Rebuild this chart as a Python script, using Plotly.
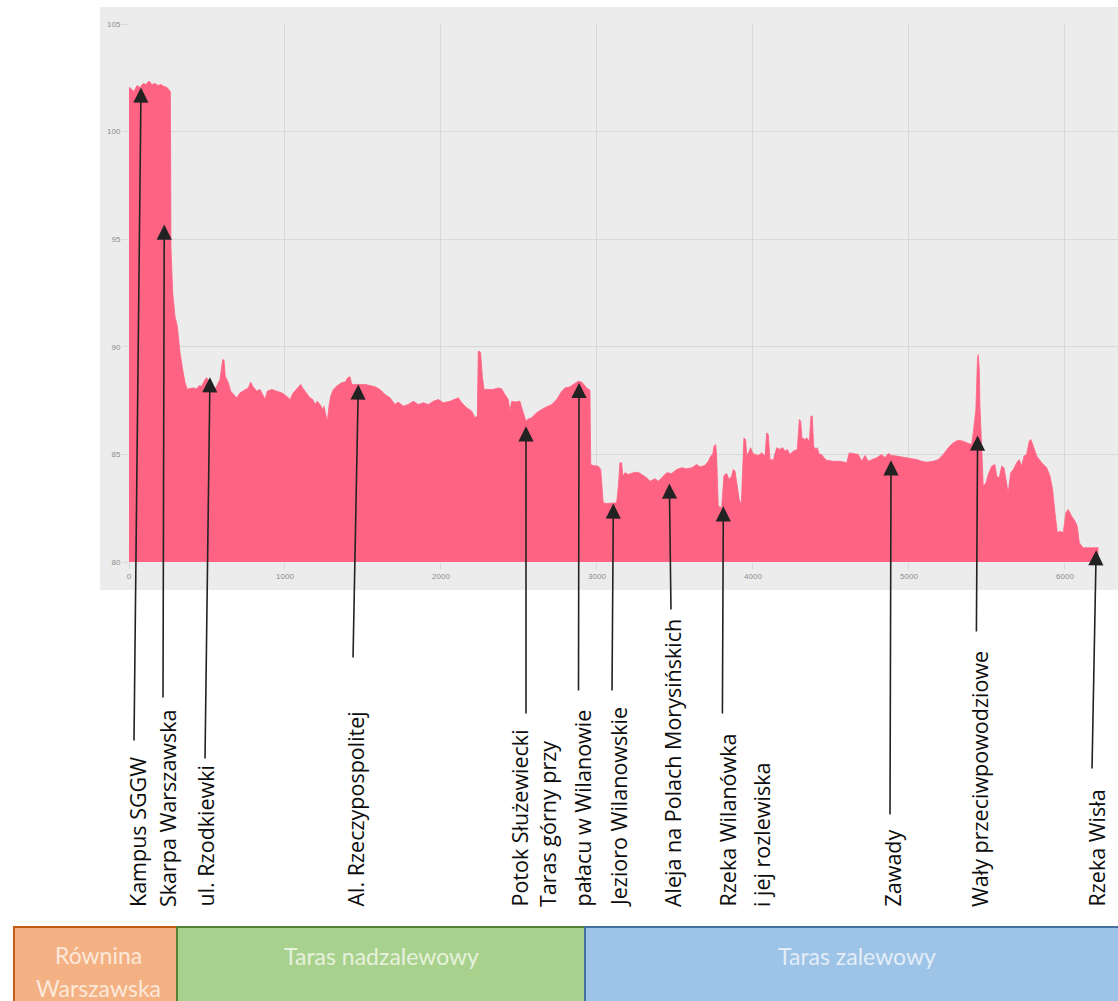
import plotly.graph_objects as go

# ---------------- data ----------------
# Segment 1: Równina Warszawska + Skarpa Warszawska
seg1_dist = [0, 19, 32, 51, 71, 90, 109, 128, 147, 167, 186, 205, 224, 244, 256, 265,
             267, 269, 280, 295, 310, 327, 344, 359, 374]
seg1_elev = [102.07, 101.96, 101.86, 102.14, 102.05, 102.23, 102.19, 102.35, 102.19, 102.23,
             102.14, 102.19, 102.10, 102.05, 101.91, 101.86, 99.17, 94.66, 92.52, 91.41,
             90.94, 89.73, 88.95, 88.34, 88.02]

# Segment 2: Taras nadzalewowy
seg2_dist = [380, 412, 434, 451, 466, 487, 498, 519, 540, 562,
             583, 601, 609, 617, 637, 652, 669, 690, 712, 733,
             765, 780, 793, 819, 840, 857, 872, 887, 915, 947,
             979, 1011, 1032, 1053, 1071, 1085, 1101, 1113, 1139, 1160,
             1178, 1192, 1207, 1224, 1242, 1250, 1261, 1271, 1282, 1293,
             1310, 1331, 1363, 1385, 1402, 1417, 1428, 1449, 1481, 1513,
             1545, 1577, 1609, 1641, 1673, 1705, 1726, 1758, 1790, 1822,
             1855, 1887, 1919, 1951, 1983, 2015, 2058, 2090, 2111, 2133,
             2165, 2197, 2218, 2233, 2239, 2244, 2254, 2265, 2276, 2303,
             2335, 2367, 2389, 2410, 2431, 2442, 2453, 2474, 2506, 2521,
             2532, 2545, 2560, 2581, 2613, 2645, 2678, 2710, 2742, 2774,
             2795, 2827, 2848, 2880, 2902, 2934, 2955]
seg2_elev = [88.05, 88.09, 88.05, 88.20, 88.17, 88.48, 88.56, 88.34, 87.94, 88.17,
             88.48, 89.41, 89.38, 88.63, 88.33, 87.94, 87.78, 87.63, 87.86, 87.94,
             88.09, 88.36, 88.17, 87.94, 88.02, 87.78, 87.55, 87.94, 88.02, 87.94,
             87.86, 87.70, 87.55, 87.86, 88.02, 88.09, 88.25, 88.09, 87.86, 87.63,
             87.55, 87.32, 87.47, 87.32, 87.09, 87.24, 86.85, 86.54, 87.24, 87.70,
             88.02, 88.17, 88.33, 88.36, 88.56, 88.61, 88.25, 88.25, 88.25, 88.25,
             88.20, 88.14, 88.02, 87.78, 87.63, 87.32, 87.43, 87.24, 87.32, 87.47,
             87.32, 87.40, 87.32, 87.47, 87.55, 87.40, 87.47, 87.55, 87.63, 87.40,
             87.17, 87.01, 86.70, 86.78, 89.78, 89.80, 89.72, 88.63, 88.02, 88.02,
             88.02, 88.09, 88.05, 87.78, 87.55, 87.01, 87.47, 87.43, 87.47, 87.09,
             86.78, 86.54, 86.65, 86.70, 86.93, 87.09, 87.21, 87.32, 87.55, 87.94,
             88.09, 88.14, 88.25, 88.40, 88.36, 88.09, 87.98]

# Segment 3: Taras zalewowy
seg3_dist = [2960, 2976, 3008, 3024, 3034, 3040, 3062, 3104, 3126, 3137,
             3147, 3158, 3165, 3179, 3201, 3233, 3265, 3286, 3319, 3340,
             3372, 3393, 3425, 3447, 3479, 3511, 3543, 3575, 3607, 3639,
             3660, 3692, 3714, 3729, 3742, 3750, 3761, 3767, 3774, 3778,
             3799, 3814, 3831, 3848, 3863, 3874, 3885, 3899, 3912, 3925,
             3934, 3942, 3953, 3960, 3976, 3985, 3998, 4013, 4034, 4056,
             4077, 4088, 4098, 4109, 4130, 4152, 4173, 4190, 4205, 4220,
             4237, 4258, 4284, 4297, 4306, 4314, 4334, 4344, 4361, 4372,
             4380, 4389, 4404, 4412, 4425, 4440, 4455, 4472, 4515, 4558,
             4601, 4617, 4643, 4675, 4697, 4718, 4739, 4761, 4793, 4825,
             4846, 4867, 4889, 4921, 4953, 4985, 5017, 5049, 5081, 5113,
             5156, 5188, 5220, 5252, 5284, 5316, 5348, 5380, 5402, 5412,
             5429, 5439, 5444, 5451, 5455, 5466, 5476, 5494, 5508, 5530,
             5551, 5562, 5579, 5594, 5609, 5622, 5636, 5652, 5669, 5690,
             5707, 5722, 5737, 5754, 5771, 5782, 5797, 5819, 5851, 5883,
             5904, 5921, 5936, 5951, 5968, 5989, 6006, 6021, 6043, 6064,
             6079, 6092, 6117, 6171, 6214]
seg3_elev = [84.53, 84.48, 84.45, 84.30, 83.52, 82.75, 82.72, 82.72, 82.75, 83.52,
             84.61, 84.61, 83.99, 84.15, 84.07, 84.15, 84.17, 84.07, 83.91, 83.75,
             83.87, 83.75, 83.99, 84.15, 84.11, 84.30, 84.38, 84.33, 84.38, 84.53,
             84.42, 84.48, 84.68, 84.92, 85.00, 85.38, 85.46, 84.92, 83.37, 82.59,
             82.52, 84.02, 84.11, 83.83, 83.99, 84.30, 84.22, 83.52, 82.90, 82.67,
             84.30, 85.77, 85.69, 84.92, 85.15, 85.31, 85.07, 85.00, 84.95, 85.07,
             84.92, 86.00, 85.92, 84.76, 84.73, 85.31, 85.23, 85.31, 85.15, 85.23,
             85.00, 85.15, 85.23, 86.62, 86.54, 85.77, 85.69, 85.77, 85.61, 86.78,
             86.78, 85.38, 85.23, 85.31, 85.00, 85.00, 84.84, 84.73, 84.68, 84.68,
             84.61, 85.07, 85.04, 85.00, 84.68, 84.95, 84.68, 84.76, 84.84, 85.00,
             84.84, 85.04, 84.95, 84.92, 84.89, 84.84, 84.80, 84.76, 84.68, 84.64,
             84.68, 84.76, 85.00, 85.31, 85.54, 85.66, 85.61, 85.51, 85.46, 86.00,
             87.09, 89.41, 89.64, 88.95, 87.24, 85.38, 83.52, 83.68, 84.07, 84.45,
             84.53, 83.99, 83.91, 84.45, 84.38, 83.83, 83.22, 84.15, 84.30, 84.61,
             84.76, 84.45, 84.92, 85.00, 85.61, 85.69, 85.38, 84.92, 84.61, 84.38,
             83.99, 83.37, 82.29, 81.36, 81.43, 81.36, 82.29, 82.44, 82.13, 81.90,
             81.66, 80.89, 80.66, 80.66, 80.66]

# Points of interest (arrow targets on the profile)
label_lines = [["Kampus SGGW"], ["Skarpa Warszawska"], ["ul. Rzodkiewki"],
               ["Al. Rzeczypospolitej"], ["Potok Służewiecki"],
               ["Taras górny przy", "pałacu w Wilanowie"], ["Jezioro Wilanowskie"],
               ["Aleja na Polach Morysińskich"], ["Rzeka Wilanówka", "i jej rozlewiska"],
               ["Zawady"], ["Wały przeciwpowodziowe"], ["Rzeka Wisła"]]
label_dist = [77, 226, 519, 1470, 2545, 2885, 3105, 3464, 3810, 4885, 5440, 6200]
label_elev = [102.05, 95.68, 88.59, 88.25, 86.31, 88.33, 82.72, 83.65, 82.59, 84.73, 85.88, 80.55]

# Geomorphological zones (bottom band)
zone_names = [["Równina", "Warszawska"], ["Taras nadzalewowy"], ["Taras zalewowy"]]

x_ticks = [0, 1000, 2000, 3000, 4000, 5000, 6000]
y_ticks = [80, 85, 90, 95, 100, 105]

# ---------------- layout geometry (pixels) ----------------
W, H = 1118, 1001
ML, MR, MT, MB = 129, 0, 24, 439
PW, PH = W - ML - MR, H - MT - MB
X_MAX = 6340
Y_MIN, Y_MAX = 80, 105


def px_x(d):
    return ML + d * PW / X_MAX


def px_y(e):
    return MT + PH - (e - Y_MIN) * PH / (Y_MAX - Y_MIN)


def paper_x(px):
    return (px - ML) / PW


def paper_y(py):
    return (MT + PH - py) / PH


# arrow tails (pixel positions) and text columns (pixel x-centres)
tail_xy = [(134, 742), (163, 699), (205, 760), (353, 659), (526, 715), (578.5, 692),
           (612, 692), (671, 611), (722.4, 715), (890, 816), (976.4, 633), (1092, 770)]
text_cols = [[137], [167], [205], [355], [519], [547, 582], [618], [672], [727, 761],
             [892], [979], [1096]]
TEXT_BOTTOM = 909

zone_px = [(14, 177), (177, 585), (585, 1135)]
zone_fill = ["#F4B183", "#A9D18E", "#9DC3E6"]
zone_line = ["#C55A11", "#548235", "#41719C"]
zone_text = ["#FCE9DC", "#E6F2DD", "#E3EEF8"]
zone_text_y = [[955, 988], [956], [956]]
zone_text_x = [98, 381, 857]

PINK = "#FF6384"
GRID = "#d8d8d8"

dist = seg1_dist + seg2_dist + seg3_dist
elev = seg1_elev + seg2_elev + seg3_elev

fig = go.Figure()
fig.add_trace(go.Scatter(x=dist, y=elev, mode="lines", fill="tozeroy",
                         line=dict(color=PINK, width=0.8), fillcolor=PINK,
                         hoverinfo="x+y"))

shapes = [dict(type="rect", xref="paper", yref="paper",
               x0=paper_x(100), x1=paper_x(1140), y0=paper_y(590), y1=paper_y(7),
               fillcolor="#ececec", line=dict(width=0), layer="below")]
for (x0, x1), fc, lc in zip(zone_px, zone_fill, zone_line):
    shapes.append(dict(type="rect", xref="paper", yref="paper",
                       x0=paper_x(x0), x1=paper_x(x1), y0=paper_y(1012), y1=paper_y(927),
                       fillcolor=fc, line=dict(color=lc, width=2), layer="above"))

annotations = []
for d, e, (tx, ty) in zip(label_dist, label_elev, tail_xy):
    annotations.append(dict(x=d, y=e, xref="x", yref="y", text="", showarrow=True,
                            ax=tx - px_x(d), ay=ty - px_y(e),
                            arrowhead=2, arrowsize=1.9, arrowwidth=1.6,
                            arrowcolor="#222222", standoff=0))
for lines, cols in zip(label_lines, text_cols):
    for txt, cx in zip(lines, cols):
        annotations.append(dict(x=paper_x(cx), y=paper_y(TEXT_BOTTOM), xref="paper", yref="paper",
                                text=txt, showarrow=False, textangle=-90,
                                xanchor="center", yanchor="bottom",
                                font=dict(family="Open Sans", size=21.5, color="#0d0d0d")))
for lines, cx, ys, tc in zip(zone_names, zone_text_x, zone_text_y, zone_text):
    for txt, cy in zip(lines, ys):
        annotations.append(dict(x=paper_x(cx), y=paper_y(cy), xref="paper", yref="paper",
                                text=txt, showarrow=False, xanchor="center", yanchor="middle",
                                font=dict(family="Lato", size=23, color=tc)))

tickfont = dict(family="Liberation Sans", size=8, color="#8c8c8c")
fig.update_layout(
    width=W, height=H, margin=dict(l=ML, r=MR, t=MT, b=MB, pad=0),
    paper_bgcolor="white", plot_bgcolor="rgba(0,0,0,0)", showlegend=False,
    xaxis=dict(range=[0, X_MAX], tickvals=x_ticks, ticktext=[str(v) for v in x_ticks],
               showgrid=True, gridcolor=GRID, gridwidth=1, zeroline=False, showline=False,
               ticks="outside", ticklen=6, tickcolor=GRID, tickfont=tickfont),
    yaxis=dict(range=[Y_MIN, Y_MAX], tickvals=y_ticks, ticktext=[str(v) for v in y_ticks],
               showgrid=True, gridcolor=GRID, gridwidth=1, zeroline=False, showline=False,
               ticks="outside", ticklen=6, tickcolor=GRID, tickfont=tickfont),
    shapes=shapes, annotations=annotations,
)

fig.write_html("out.html", config={"displayModeBar": False},
               post_script="document.body.style.margin='0px';")
